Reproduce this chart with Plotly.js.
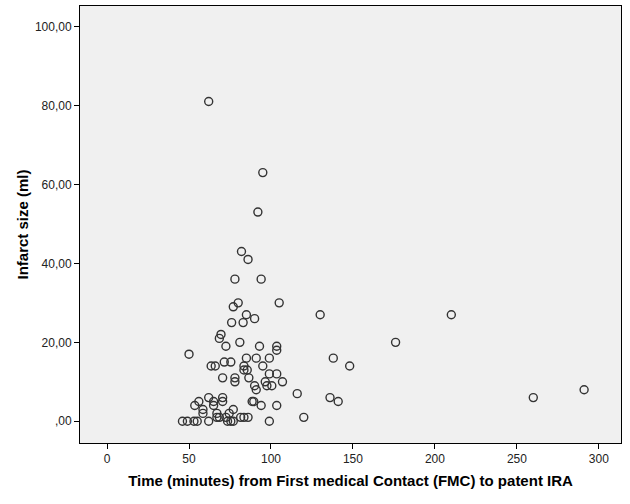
<!DOCTYPE html>
<html>
<head>
<meta charset="utf-8">
<script src="https://cdn.plot.ly/plotly-3.0.1.min.js"></script>
<style>
  html, body { margin: 0; padding: 0; background: #fff; }
  #chart { width: 630px; height: 504px; }
</style>
</head>
<body>
<div id="chart"></div>
<script>
// Time from FMC to patent IRA (minutes) vs infarct size (ml)
const fmcMinutes = [
    62, 95, 92, 82, 86, 78, 94, 80, 105, 77,
    85, 130, 210, 90, 76, 83, 69.5, 68.5, 81, 176,
    72.5, 93, 103.5, 103.5, 50, 85, 91, 99, 138, 63.5,
    66, 71.5, 75.5, 95, 148, 83.5, 83.5, 85.5, 70.5, 78,
    78, 86.5, 99, 103.5, 96.5, 107, 90, 97.5, 100.5, 91,
    116, 291, 62, 70.5, 136, 260, 56, 65, 70.5, 88.5,
    89.5, 141, 53.5, 65, 94, 103.5, 58.5, 77, 58.5, 67,
    74.5, 67, 68.5, 72.5, 81.5, 83.5, 86, 120, 46, 49,
    53, 55, 62, 73.5, 75.5, 77, 99
];
const infarctMl = [
    81, 63, 53, 43, 41, 36, 36, 30, 30, 29,
    27, 27, 27, 26, 25, 25, 22, 21, 20, 20,
    19, 19, 19, 18, 17, 16, 16, 16, 16, 14,
    14, 15, 15, 14, 14, 14, 13, 13, 11, 11,
    10, 11, 12, 12, 10, 10, 9, 9, 9, 8,
    7, 8, 6, 6, 6, 6, 5, 5, 5, 5,
    5, 5, 4, 4, 4, 4, 3, 3, 2, 2,
    2, 1, 1, 1, 1, 1, 1, 1, 0, 0,
    0, 0, 0, 0, 0, 0, 0
];
const xTickVals = [0, 50, 100, 150, 200, 250, 300];
const yTickVals = [0, 20, 40, 60, 80, 100];
const yTickText = [',00', '20,00', '40,00', '60,00', '80,00', '100,00'];

const trace = {
    x: fmcMinutes,
    y: infarctMl,
    mode: 'markers',
    type: 'scatter',
    marker: {
        symbol: 'circle-open',
        size: 8,
        color: '#333333',
        line: {width: 1.4, color: '#333333'}
    },
    hoverinfo: 'x+y'
};

const axisFont = {family: 'Liberation Sans, Arial, sans-serif', size: 12, color: '#222'};
const titleFont = {family: 'Liberation Sans, Arial, sans-serif', size: 15, color: '#000', weight: 'bold'};

const layout = {
    width: 630,
    height: 504,
    margin: {l: 80, r: 9, t: 6, b: 61},
    paper_bgcolor: '#ffffff',
    plot_bgcolor: '#f0f0f0',
    showlegend: false,
    xaxis: {
        range: [-16.5, 313.5],
        tickvals: xTickVals,
        ticks: 'outside',
        ticklen: 5,
        tickcolor: '#000',
        showgrid: false,
        zeroline: false,
        showline: true,
        linecolor: '#000',
        linewidth: 1,
        mirror: true,
        tickfont: axisFont,
        title: {text: 'Time (minutes) from First medical Contact (FMC) to patent IRA', font: titleFont, standoff: 10}
    },
    yaxis: {
        range: [-5.5, 105.2],
        tickvals: yTickVals,
        ticktext: yTickText,
        ticks: 'outside',
        ticklen: 5,
        tickcolor: '#000',
        showgrid: false,
        zeroline: false,
        showline: true,
        linecolor: '#000',
        linewidth: 1,
        mirror: true,
        tickfont: axisFont,
        title: {text: 'Infarct size (ml)', font: titleFont, standoff: 2}
    }
};

Plotly.newPlot('chart', [trace], layout, {displayModeBar: false, staticPlot: true});
</script>
</body>
</html>
